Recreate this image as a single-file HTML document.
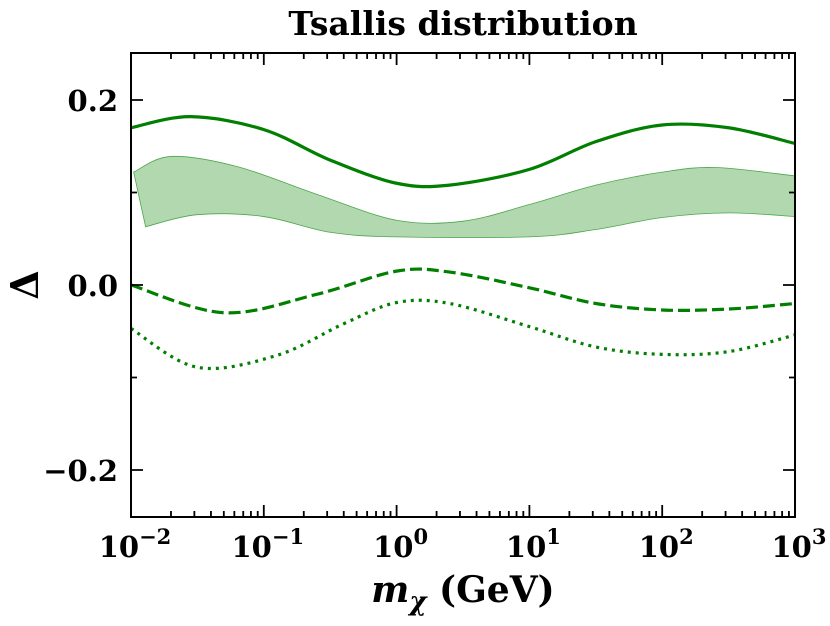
<!DOCTYPE html>
<html><head><meta charset="utf-8"><style>
body{margin:0;background:#fff}
svg text{font-family:"DejaVu Serif","Liberation Serif",serif;font-weight:bold;fill:#000}
</style></head><body>
<svg id="c" width="830" height="621" viewBox="0 0 830 621" xmlns="http://www.w3.org/2000/svg"></svg>
<script>
const xTicks=[-2,-1,0,1,2,3];
const yTicks=[-0.2,0,0.2];
const yTickLabels=["\u22120.2","0.0","0.2"];
const solidX=[-2,-1.55,-1,-0.5,0,0.4,1,1.5,2,2.5,3];
const solidY=[0.170,0.182,0.168,0.135,0.110,0.108,0.125,0.155,0.173,0.170,0.153];
const dashX=[-2,-1.3,-0.6,0,0.4,1,1.5,2,2.5,3];
const dashY=[0.0,-0.030,-0.010,0.015,0.014,-0.003,-0.020,-0.027,-0.026,-0.020];
const dotX=[-2,-1.5,-0.9,-0.4,0,0.4,1,1.5,2,2.5,3];
const dotY=[-0.047,-0.089,-0.076,-0.042,-0.019,-0.020,-0.045,-0.067,-0.075,-0.072,-0.054];
const bandUpX=[-1.98,-1.7,-1.2,-0.6,0,0.5,1,1.5,2,2.4,3];
const bandUpY=[0.122,0.139,0.128,0.098,0.070,0.069,0.087,0.108,0.122,0.127,0.118];
const bandLoX=[-1.89,-1.5,-1,-0.5,0,1,1.5,2,2.5,3];
const bandLoY=[0.063,0.076,0.074,0.057,0.052,0.052,0.060,0.073,0.078,0.074];

const L=131,R=795,T=53,B=517;
const sx=v=>L+(v+2)/5*(R-L);
const sy=v=>285-v*(285-100)/0.2;
const NS="http://www.w3.org/2000/svg";
const svg=document.getElementById('c');
function mk(t,a,p){const e=document.createElementNS(NS,t);for(const k in a)e.setAttribute(k,a[k]);(p||svg).appendChild(e);return e;}
function pts(xs,ys){return xs.map((x,i)=>[sx(x),sy(ys[i])]);}
function spline(p,move=true){let d=move?`M${p[0][0]},${p[0][1]}`:`L${p[0][0]},${p[0][1]}`;
 for(let i=0;i<p.length-1;i++){const p0=p[i-1]||p[i],p1=p[i],p2=p[i+1],p3=p[i+2]||p2;
 d+=`C${p1[0]+(p2[0]-p0[0])/6},${p1[1]+(p2[1]-p0[1])/6} ${p2[0]-(p3[0]-p1[0])/6},${p2[1]-(p3[1]-p1[1])/6} ${p2[0]},${p2[1]}`;}return d;}
const band=mk('path',{d:spline(pts(bandUpX,bandUpY))+spline(pts(bandLoX,bandLoY).reverse(),false)+'Z',fill:'#b2d8b0',stroke:'#4ca64c','stroke-width':0.8});


const s1=mk('path',{d:spline(pts(solidX,solidY)),fill:'none',stroke:'#007f00','stroke-width':3.2});


const s2=mk('path',{d:spline(pts(dashX,dashY)),fill:'none',stroke:'#007f00','stroke-width':3.2,'stroke-dasharray':'12 5'});


const s3=mk('path',{d:spline(pts(dotX,dotY)),fill:'none',stroke:'#007f00','stroke-width':3.2,'stroke-dasharray':'3 5'});


const fr=mk('rect',{x:L,y:T,width:R-L,height:B-T,fill:'none',stroke:'#000','stroke-width':2});


let tk='';
for(let d=-2;d<=3;d++){const x=sx(d);tk+=`M${x},${B}v-12M${x},${T}v12`;
 if(d<3)for(let m=2;m<10;m++){const xm=sx(d+Math.log10(m));tk+=`M${xm},${B}v-6M${xm},${T}v6`;}}
for(let v=-0.2;v<=0.21;v+=0.1){const y=sy(v);const maj=Math.abs(Math.round(v*10))%2===0;const l=maj?12:6;tk+=`M${L},${y}h${l}M${R},${y}h-${l}`;}
const tp=mk('path',{d:tk,stroke:'#000','stroke-width':1.8,fill:'none'});


xTicks.forEach(d=>{const t=mk('text',{x:sx(d)+4,y:557,'font-size':29,'text-anchor':'middle'});
 
 
 t.innerHTML=`10<tspan dy="-13" font-size="21">${d}</tspan>`.replace('>-','>\u2212');});
yTicks.forEach((v,i)=>{const t=mk('text',{x:118,y:sy(v)+11,'font-size':29,'text-anchor':'end'});
 
 
 t.textContent=yTickLabels[i];});
const tt=mk('text',{x:463,y:35,'font-size':33,'text-anchor':'middle'});tt.textContent='Tsallis distribution';


const xl=mk('text',{x:463,y:602,'font-size':36,'text-anchor':'middle'});
xl.innerHTML='<tspan font-style="italic">m</tspan><tspan font-style="italic" font-size="26" dy="8">χ</tspan><tspan dy="-8"> (GeV)</tspan>';


const yl=mk('text',{x:38,y:285,'font-size':38,'text-anchor':'middle',transform:'rotate(-90 38 285)'});yl.textContent='Δ';


</script>
</body></html>
